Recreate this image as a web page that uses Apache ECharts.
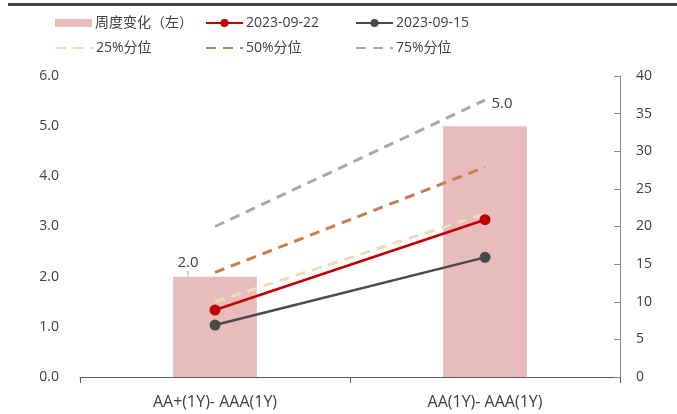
<!DOCTYPE html>
<html>
<head>
<meta charset="utf-8">
<script src="https://cdn.jsdelivr.net/npm/echarts@6/dist/echarts.min.js"></script>
<style>
  html, body { margin: 0; padding: 0; background: #fff; }
  #chart { width: 677px; height: 414px; }
</style>
</head>
<body>
<div id="chart"></div>
<script>
// Categories and values
const categories = ['AA+(1Y)- AAA(1Y)', 'AA(1Y)- AAA(1Y)'];
const weeklyChange = [2.0, 5.0];          // 周度变化（左）
const spread0922 = [8.9, 20.9];           // 2023-09-22
const spread0915 = [6.9, 15.9];           // 2023-09-15
const pct25 = [10.0, 21.7];               // 25%分位
const pct50 = [13.9, 27.9];               // 50%分位
const pct75 = [20.0, 36.8];               // 75%分位
const leftTicks = { min: 0, max: 6, interval: 1 };
const rightTicks = { min: 0, max: 40, interval: 5 };

const FONT = "'Open Sans', 'Noto Sans CJK SC', sans-serif";
const TXT = '#404040';

const chart = echarts.init(document.getElementById('chart'));

function legendAt(name, left, top, kind) {
  const item = { name: name };
  if (kind === 'bar') item.icon = 'rect';
  if (kind === 'dash') item.itemStyle = { opacity: 0 };
  return {
    data: [item],
    left: left, top: top,
    itemWidth: 37, itemHeight: kind === 'bar' ? 8 : 10,
    itemGap: 0,
    padding: 0,
    textStyle: { color: TXT, fontSize: 14, fontFamily: FONT, padding: [0, 0, 0, -2] },
    selectedMode: false
  };
}

function dashedLine(name, data, color) {
  return {
    name: name, type: 'line', yAxisIndex: 1, data: data,
    symbol: 'none', z: 3,
    lineStyle: { color: color, width: 3, type: [10, 7] },
    itemStyle: { color: color }
  };
}

function solidLine(name, data, color) {
  return {
    name: name, type: 'line', yAxisIndex: 1, data: data,
    symbol: 'circle', symbolSize: 11, z: 4,
    lineStyle: { color: color, width: 2.5 },
    itemStyle: { color: color }
  };
}

chart.setOption({
  animation: false,
  backgroundColor: '#fff',
  graphic: [{
    type: 'rect', left: 8, top: 3,
    shape: { width: 669, height: 3 },
    style: { fill: '#444' }
  }],
  legend: [
    legendAt('周度变化（左）', 55, 16, 'bar'),
    legendAt('2023-09-22', 205, 16, 'solid'),
    legendAt('2023-09-15', 355, 16, 'solid'),
    legendAt('25%分位', 55, 41, 'dash'),
    legendAt('50%分位', 205, 41, 'dash'),
    legendAt('75%分位', 355, 41, 'dash')
  ],
  grid: { left: 80, right: 57, top: 76, bottom: 37 },
  xAxis: {
    type: 'category', data: categories,
    axisLine: { show: true, lineStyle: { color: '#595959', width: 1.2 } },
    axisTick: { show: true, alignWithLabel: false, length: 6, lineStyle: { color: '#595959' } },
    axisLabel: { color: TXT, fontSize: 16, fontFamily: FONT, margin: 17 }
  },
  yAxis: [
    {
      type: 'value', min: leftTicks.min, max: leftTicks.max, interval: leftTicks.interval,
      position: 'left',
      axisLine: { show: false }, axisTick: { show: false }, splitLine: { show: false },
      axisLabel: { color: TXT, fontSize: 14, fontFamily: FONT, margin: 21,
        formatter: v => v.toFixed(1) }
    },
    {
      type: 'value', min: rightTicks.min, max: rightTicks.max, interval: rightTicks.interval,
      position: 'right',
      axisLine: { show: true, lineStyle: { color: '#8c8c8c' } },
      axisTick: { show: true, inside: true, length: 6, lineStyle: { color: '#8c8c8c' } },
      splitLine: { show: false },
      axisLabel: { color: TXT, fontSize: 14, fontFamily: FONT, margin: 16 }
    }
  ],
  series: [
    {
      name: '周度变化（左）', type: 'bar', yAxisIndex: 0,
      data: weeklyChange.map((v, i) => ({ value: v, labelLine: { show: i === 0 } })),
      barWidth: '31%', z: 1,
      itemStyle: { color: '#E8BBBD' },
      label: { show: true, position: 'top', color: TXT, fontSize: 15, fontFamily: FONT,
        formatter: p => p.value.toFixed(1) },
      labelLine: { show: true, lineStyle: { color: '#a6a6a6', width: 1 } },
      labelLayout: p => p.dataIndex === 0 ? { dx: -27, dy: -1 } : { dx: 17, dy: -10 }
    },
    dashedLine('25%分位', pct25, '#EDDBBC'),
    dashedLine('50%分位', pct50, '#C97F4C'),
    dashedLine('75%分位', pct75, '#A8A8A8'),
    solidLine('2023-09-22', spread0922, '#C00000'),
    solidLine('2023-09-15', spread0915, '#4A4A4A')
  ]
});
</script>
</body>
</html>
